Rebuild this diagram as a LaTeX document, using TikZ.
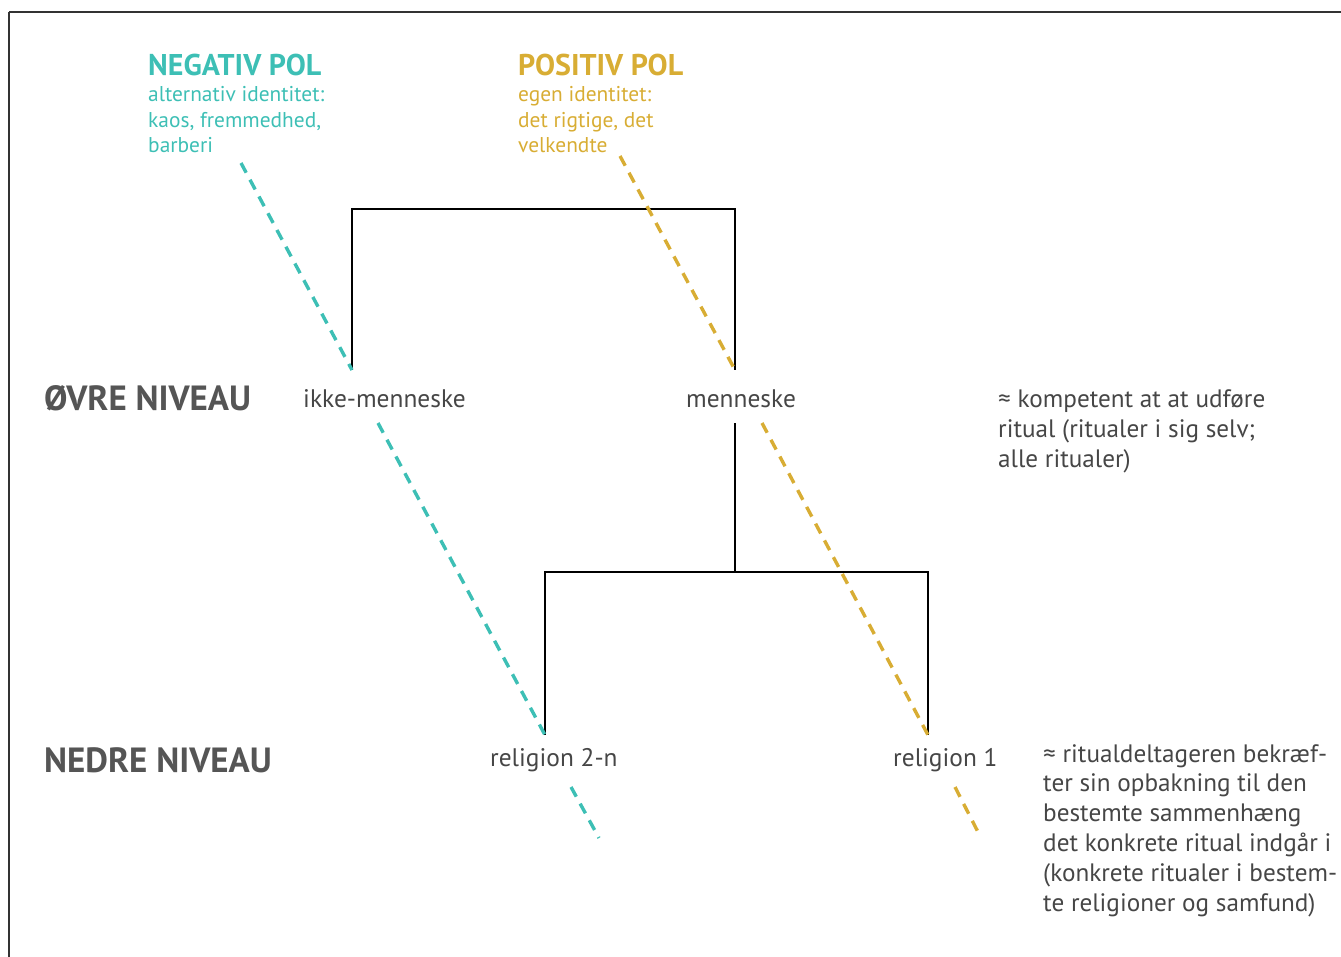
\documentclass[tikz,border=0pt]{standalone}
\usepackage{fontspec}
\setmainfont{PT Sans}
\definecolor{teal}{RGB}{61,191,181}
\definecolor{gold}{RGB}{216,173,52}
\definecolor{txt}{RGB}{70,70,70}
\definecolor{lvl}{RGB}{85,85,85}
\begin{document}
\begin{tikzpicture}[x=1pt,y=-1pt,
  treeline/.style={line width=2.8pt,black},
  poldash/.style={line width=3.4pt,dash pattern=on 11pt off 8pt},
  word/.style={anchor=base west,inner sep=0pt,text=txt,font=\fontsize{25.4}{30}\selectfont},
  note/.style={anchor=base west,inner sep=0pt,text=txt,align=left,font=\fontsize{25.2}{29.8}\selectfont},
  level/.style={anchor=base west,inner sep=0pt,text=lvl,font=\fontsize{35}{40}\selectfont\bfseries},
  poltitle/.style={anchor=base west,inner sep=0pt,font=\fontsize{30}{34}\selectfont\bfseries},
  polsub/.style={anchor=base west,inner sep=0pt,align=left,font=\fontsize{21.4}{25.6}\selectfont}]
\useasboundingbox (0,0) rectangle (1341,957);
\draw[line width=1.6pt,black!80] (9,12) -- (1350,12);
\draw[line width=1.6pt,black!80] (9,12) -- (9,970);

% pole labels
\node[poltitle,text=teal] (negt) at (148,76) {NEGATIV POL};
\node[polsub,text=teal] (negs) at (148,153) {alternativ identitet:\\kaos, fremmedhed,\\barberi};
\node[poltitle,text=gold] (post) at (518,76) {POSITIV POL};
\node[polsub,text=gold] (poss) at (518,153) {egen identitet:\\det rigtige, det\\velkendte};

% levels
\node[level] (ovre) at (44,410) {ØVRE NIVEAU};
\node[level] (nedre) at (44,772) {NEDRE NIVEAU};

% tree labels
\node[word] (ikke) at (303,407) {ikke-menneske};
\node[word] (menn) at (686,407) {menneske};
\node[word] (rel2) at (490,766) {religion 2-n};
\node[word] (rel1) at (893,766) {religion 1};

% notes
\node[note] (noteA) at (998,467) {≈ kompetent at at udføre\\ritual (ritualer i sig selv;\\alle ritualer)};
\node[note] (noteB) at (1043,911) {≈ ritualdeltageren bekræf-\\ter sin opbakning til den\\bestemte sammenhæng\\det konkrete ritual indgår i\\(konkrete ritualer i bestem-\\te religioner og samfund)};

% tree coordinates
\coordinate (ikkeTop) at (352,370);
\coordinate (mennTop) at (735,370);
\coordinate (tl) at (352,209);
\coordinate (tr) at (735,209);
\coordinate (mennBot) at (735,423);
\coordinate (mid) at (735,572);
\coordinate (bl) at (545,572);
\coordinate (br) at (928,572);
\coordinate (rel2Top) at (545,735);
\coordinate (rel1Top) at (928,735);

\draw[treeline] (ikkeTop) -- (tl) -- (tr) -- (mennTop);
\draw[treeline] (mennBot) -- (mid);
\draw[treeline] (rel2Top) -- (bl) -- (br) -- (rel1Top);

% dashed pole lines
\coordinate (t1) at (241,163);
\coordinate (t2) at (378,423);
\coordinate (t3) at (571,787);
\coordinate (t4) at (599,838);
\coordinate (g1) at (620,156);
\coordinate (g2) at (762,423);
\coordinate (g3) at (955,787);
\coordinate (g4) at (978,832);
\draw[poldash,teal] (t1) -- (ikkeTop);
\draw[poldash,teal] (t2) -- (rel2Top);
\draw[poldash,teal] (t3) -- (t4);
\draw[poldash,gold] (g1) -- (mennTop);
\draw[poldash,gold] (g2) -- (rel1Top);
\draw[poldash,gold] (g3) -- (g4);
\end{tikzpicture}
\end{document}
